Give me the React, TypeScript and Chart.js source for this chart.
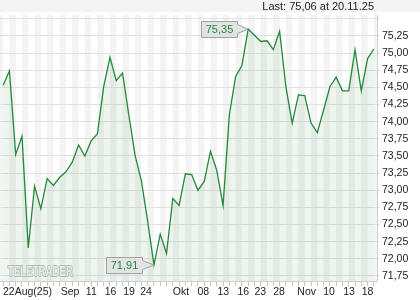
import React, { useEffect, useRef } from 'react';
import { Chart, registerables } from 'chart.js';

Chart.register(...registerables);

// Daily closing prices (22 Aug 2025 – 20 Nov 2025)
const prices: number[] = [
  74.53, 74.74, 73.52, 73.79, 72.16, 73.06, 72.73, 73.17, 73.07, 73.19,
  73.27, 73.41, 73.66, 73.50, 73.72, 73.82, 74.51, 74.94, 74.60, 74.71,
  74.10, 73.51, 73.14, 72.55, 71.91, 72.36, 72.08, 72.88, 72.78, 73.24,
  73.23, 73.00, 73.13, 73.57, 73.29, 72.78, 74.10, 74.66, 74.82, 75.35,
  75.26, 75.17, 75.18, 75.05, 75.32, 74.51, 73.98, 74.39, 74.38, 73.98,
  73.84, 74.17, 74.51, 74.65, 74.45, 74.45, 75.05, 74.45, 74.92, 75.06,
];

// X-axis label texts and their positions (in trading-day index units)
const xLabelText: string[] = ['22Aug(25)', 'Sep', '11', '16', '19', '24', 'Okt', '08', '13', '16', '23', '28', 'Nov', '10', '13', '18'];
const xLabelPos: number[] = [3.88, 10.64, 14.03, 17.09, 20.03, 22.74, 28.31, 31.86, 35.04, 38.22, 40.93, 43.9, 48.31, 51.86, 55.05, 58.0];

// Y-axis ticks
const yTicks: number[] = [71.75, 72.0, 72.25, 72.5, 72.75, 73.0, 73.25, 73.5, 73.75, 74.0, 74.25, 74.5, 74.75, 75.0, 75.25, 75.5];
const yHidden: number[] = [75.5];

const lastDate = '20.11.25';
const brand = 'TELETRADER';

const FONT = "'Liberation Sans', Arial, sans-serif";
const fmt = (v: number) => v.toFixed(2).replace('.', ',');

const stripesPlugin = {
  id: 'stripes',
  beforeDraw(chart: any) {
    const { ctx, chartArea: a, scales } = chart;
    const x = scales.x;
    ctx.save();
    ctx.fillStyle = '#ffffff';
    ctx.fillRect(a.left, a.top, a.right - a.left, a.bottom - a.top);
    ctx.beginPath();
    ctx.rect(a.left, a.top, a.right - a.left, a.bottom - a.top);
    ctx.clip();
    ctx.fillStyle = '#f3f3f3';
    for (let i = -1; i < prices.length; i++) {
      if (Math.abs(i) % 2 === 1) {
        const x0 = x.getPixelForValue(i);
        const x1 = x.getPixelForValue(i + 1);
        ctx.fillRect(x0, a.top, x1 - x0, a.bottom - a.top);
      }
    }
    ctx.restore();
  },
  beforeDatasetsDraw(chart: any) {
    const { ctx, chartArea: a } = chart;
    ctx.save();
    ctx.font = `bold 13px ${FONT}`;
    const w = ctx.measureText(brand).width;
    const targetW = 65;
    ctx.translate(a.left + 8, a.bottom - 5);
    ctx.scale(targetW / w, 1.1);
    ctx.lineJoin = 'round';
    ctx.strokeStyle = '#c2c2c2';
    ctx.lineWidth = 1.6;
    ctx.strokeText(brand, 0, 0);
    ctx.fillStyle = '#f4f4f4';
    ctx.fillText(brand, 0, 0);
    ctx.restore();
  },
  afterDatasetsDraw(chart: any) {
    const { ctx, scales } = chart;
    const x = scales.x;
    const y = scales.y;
    let iMax = 0;
    let iMin = 0;
    prices.forEach((p, i) => {
      if (p > prices[iMax]) iMax = i;
      if (p < prices[iMin]) iMin = i;
    });
    const drawBox = (i: number) => {
      const px = x.getPixelForValue(i);
      const py = y.getPixelForValue(prices[i]);
      const bw = 36;
      const bh = 16;
      const bx = Math.round(px - 11.6 - bw) + 0.5;
      const by = Math.round(py - bh / 2) + 0.5;
      ctx.save();
      ctx.fillStyle = '#e3e3e3';
      ctx.strokeStyle = '#a2a2a2';
      ctx.lineWidth = 1;
      ctx.beginPath();
      ctx.moveTo(bx, by);
      ctx.lineTo(bx + bw, by);
      ctx.lineTo(bx + bw, by + 3);
      ctx.lineTo(px, py);
      ctx.lineTo(bx + bw, by + bh - 4);
      ctx.lineTo(bx + bw, by + bh);
      ctx.lineTo(bx, by + bh);
      ctx.closePath();
      ctx.fill();
      ctx.stroke();
      ctx.fillStyle = '#1f8a3a';
      ctx.font = `11px ${FONT}`;
      ctx.textAlign = 'center';
      ctx.textBaseline = 'middle';
      ctx.fillText(fmt(prices[i]), bx + bw / 2, by + bh / 2 + 0.5);
      ctx.restore();
    };
    drawBox(iMax);
    drawBox(iMin);
  },
};

export default function App() {
  const ref = useRef<HTMLCanvasElement>(null);
  useEffect(() => {
    document.body.style.margin = '0';
    const canvas = ref.current!;
    const chart = new Chart(canvas, {
      type: 'line',
      data: {
        datasets: [
          {
            data: prices.map((p, i) => ({ x: i, y: p })),
            borderColor: '#23893b',
            borderWidth: 1.3,
            pointRadius: 0,
            tension: 0,
            fill: 'start',
            backgroundColor: 'rgba(40,120,40,0.08)',
          },
        ],
      },
      options: {
        animation: false,
        responsive: false,
        maintainAspectRatio: false,
        layout: { padding: { top: 15, left: 0, right: 0, bottom: 0 } },
        plugins: { legend: { display: false }, tooltip: { enabled: false }, title: { display: false } },
        scales: {
          x: {
            type: 'linear',
            position: 'bottom',
            min: -0.5,
            max: prices.length - 0.5,
            afterBuildTicks: (s: any) => {
              s.ticks = prices.map((_, i) => ({ value: i }));
            },
            ticks: { display: false },
            grid: { drawOnChartArea: false, drawTicks: true, tickLength: 5, color: '#c4c4c4' },
            border: { color: '#cfcfcf' },
            afterFit: (s: any) => {
              s.height = 5;
            },
          },
          x2: {
            type: 'linear',
            position: 'bottom',
            min: -0.5,
            max: prices.length - 0.5,
            afterBuildTicks: (s: any) => {
              s.ticks = xLabelPos.map((v) => ({ value: v }));
            },
            ticks: {
              autoSkip: false,
              maxRotation: 0,
              padding: 0,
              color: '#222',
              font: { size: 10.5, family: FONT },
              callback: (_v: any, i: number) => xLabelText[i],
            },
            grid: { display: false, drawTicks: false },
            border: { display: false },
            afterFit: (s: any) => {
              s.height = 14;
            },
          },
          y: {
            position: 'right',
            min: 71.677,
            max: 75.556,
            afterBuildTicks: (s: any) => {
              s.ticks = yTicks.map((v) => ({ value: v }));
            },
            ticks: {
              padding: 2,
              color: '#222',
              font: { size: 10.5, family: FONT },
              callback: (v: any) => (yHidden.includes(Number(v)) ? '' : fmt(Number(v))),
            },
            grid: { color: '#e2e2e2', tickLength: 3 },
            border: { color: '#cfcfcf' },
            afterFit: (s: any) => {
              s.width = 43;
            },
          },
        },
      },
      plugins: [stripesPlugin],
    });
    return () => chart.destroy();
  }, []);

  return (
    <div style={{ position: 'relative', width: 420, height: 300 }}>
      <div
        style={{
          position: 'absolute',
          top: 0,
          left: 0,
          width: 420,
          height: 12,
          background: '#f4f4f4',
        }}
      />
      <canvas
        ref={ref}
        width={420}
        height={300}
        style={{ position: 'relative', display: 'block', width: 420, height: 300 }}
      />
      <div
        style={{
          position: 'absolute',
          top: 0,
          right: 46,
          height: 12,
          lineHeight: '12px',
          fontFamily: FONT,
          fontSize: 11,
          color: '#222',
          whiteSpace: 'nowrap',
        }}
      >
        {`Last: ${fmt(prices[prices.length - 1])} at ${lastDate}`}
      </div>
    </div>
  );
}
